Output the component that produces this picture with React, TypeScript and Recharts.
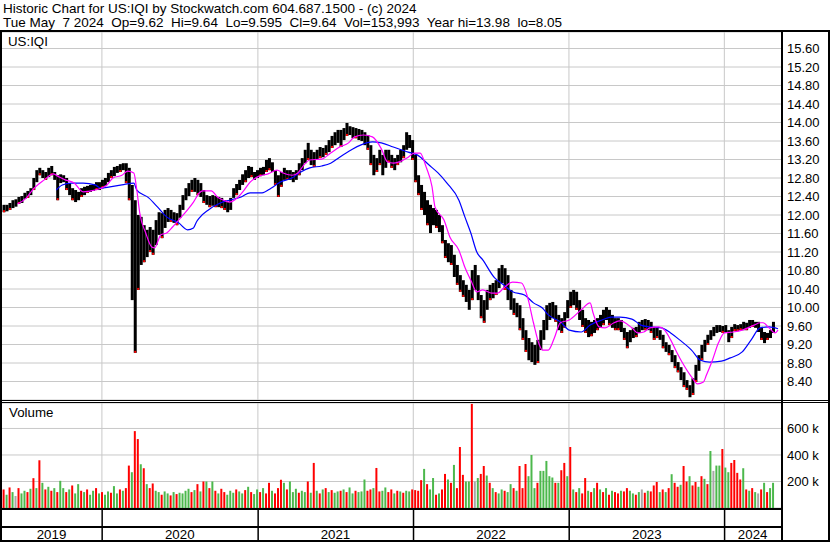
import React from "react";
import { Bar, CartesianGrid, Cell, ComposedChart, Line, XAxis, YAxis } from "recharts";

const font = '"Liberation Sans", Arial, sans-serif';
const gridColor = "#c8c8c8";

// weeks counted from Mon 13 May 2019
const priceTicks = [8.4, 8.8, 9.2, 9.6, 10.0, 10.4, 10.8, 11.2, 11.6, 12.0, 12.4, 12.8, 13.2, 13.6, 14.0, 14.4, 14.8, 15.2, 15.6];
const volumeTicks = [200000, 400000, 600000];
const years = ["2019", "2020", "2021", "2022", "2023", "2024"];
const yearStartWeek = [33.3, 85.6, 137.7, 189.9, 242.0];
const yearMidWeek = [16.4, 59.4, 111.6, 163.8, 216.0, 251.5];

const weekHigh = [
  12.22, 12.22, 12.26, 12.32, 12.34, 12.39, 12.41, 12.48, 12.52, 12.58,
  12.8, 12.97, 13.02, 12.97, 12.93, 13.02, 13.06, 12.93, 12.86, 12.88,
  12.86, 12.8, 12.69, 12.58, 12.54, 12.5, 12.58, 12.61, 12.63, 12.65,
  12.67, 12.71, 12.71, 12.76, 12.8, 12.91, 12.97, 13.04, 13.06, 13.1,
  13.12, 13.12, 13.02, 12.65, 12.32, 12.0, 11.96, 11.78, 11.68, 11.74,
  11.68, 11.89, 12.06, 12.04, 12.11, 12.15, 12.11, 12.06, 12.04, 12.22,
  12.43, 12.58, 12.69, 12.76, 12.8, 12.76, 12.69, 12.54, 12.43, 12.41,
  12.43, 12.41, 12.39, 12.37, 12.32, 12.28, 12.37, 12.58, 12.67, 12.76,
  12.88, 12.97, 13.06, 13.04, 12.93, 12.97, 13.02, 13.04, 13.19, 13.23,
  13.14, 12.97, 12.86, 12.93, 13.02, 12.97, 12.97, 12.93, 12.97, 13.12,
  13.23, 13.41, 13.56, 13.41, 13.36, 13.41, 13.47, 13.45, 13.51, 13.62,
  13.71, 13.79, 13.84, 13.84, 13.88, 13.99, 13.92, 13.9, 13.88, 13.86,
  13.84, 13.79, 13.73, 13.51, 13.3, 13.23, 13.41, 13.3, 13.41, 13.41,
  13.3, 13.23, 13.3, 13.41, 13.51, 13.79, 13.73, 13.62, 13.3, 12.86,
  12.65, 12.5, 12.32, 12.22, 12.15, 12.11, 12.0, 11.78, 11.46, 11.39,
  11.35, 11.14, 10.92, 10.7, 10.59, 10.49, 10.38, 10.81, 10.92, 10.7,
  10.27, 10.16, 10.38, 10.49, 10.53, 10.59, 10.85, 10.92, 10.85, 10.7,
  10.38, 10.2, 10.1, 10.05, 9.77, 9.51, 9.34, 9.25, 9.19, 9.3,
  9.51, 9.73, 10.05, 10.1, 10.12, 10.05, 9.84, 9.77, 9.9, 10.16,
  10.34, 10.38, 10.34, 10.16, 9.95, 9.77, 9.73, 9.69, 9.73, 9.77,
  9.84, 9.95, 10.01, 9.95, 9.84, 9.77, 9.77, 9.73, 9.56, 9.47,
  9.51, 9.56, 9.58, 9.69, 9.73, 9.75, 9.73, 9.69, 9.58, 9.56,
  9.51, 9.41, 9.25, 9.19, 9.08, 8.97, 8.82, 8.71, 8.6, 8.43,
  8.32, 8.47, 8.76, 8.97, 9.19, 9.3, 9.41, 9.51, 9.58, 9.62,
  9.62, 9.6, 9.62, 9.51, 9.58, 9.64, 9.62, 9.64, 9.69, 9.67,
  9.73, 9.73, 9.69, 9.69, 9.56, 9.47, 9.45, 9.51, 9.69,
];

const weekLow = [
  12.06, 12.08, 12.11, 12.15, 12.18, 12.24, 12.26, 12.35, 12.37, 12.43,
  12.54, 12.71, 12.86, 12.8, 12.76, 12.82, 12.86, 12.76, 12.32, 12.69,
  12.71, 12.54, 12.43, 12.32, 12.28, 12.32, 12.39, 12.43, 12.48, 12.5,
  12.52, 12.54, 12.54, 12.58, 12.63, 12.71, 12.8, 12.84, 12.91, 12.93,
  12.97, 12.69, 12.32, 10.16, 9.02, 10.38, 10.92, 10.98, 11.09, 11.2,
  11.14, 11.35, 11.57, 11.5, 11.72, 11.85, 11.85, 11.83, 11.78, 11.94,
  12.11, 12.32, 12.41, 12.5, 12.5, 12.43, 12.39, 12.26, 12.22, 12.17,
  12.2, 12.17, 12.17, 12.15, 12.11, 12.06, 12.11, 12.37, 12.43, 12.54,
  12.65, 12.71, 12.8, 12.82, 12.76, 12.8, 12.84, 12.86, 12.93, 12.97,
  12.93, 12.65, 12.39, 12.61, 12.76, 12.76, 12.76, 12.71, 12.76, 12.86,
  12.97, 13.12, 13.19, 13.08, 13.04, 13.19, 13.23, 13.25, 13.3, 13.36,
  13.45, 13.51, 13.56, 13.47, 13.62, 13.71, 13.73, 13.66, 13.66, 13.62,
  13.6, 13.51, 13.41, 13.08, 12.86, 12.93, 13.08, 12.86, 13.02, 13.14,
  13.02, 12.97, 13.08, 13.14, 13.23, 13.41, 13.45, 13.19, 12.71, 12.43,
  12.11, 12.0, 11.78, 11.61, 11.78, 11.72, 11.63, 11.39, 11.07, 10.98,
  10.92, 10.66, 10.49, 10.34, 10.23, 10.12, 9.95, 10.16, 10.38, 10.16,
  9.77, 9.67, 9.95, 10.16, 10.2, 10.27, 10.42, 10.53, 10.38, 10.16,
  9.95, 9.84, 9.79, 9.51, 9.3, 9.04, 8.86, 8.82, 8.76, 8.8,
  9.08, 9.3, 9.51, 9.73, 9.77, 9.69, 9.51, 9.45, 9.56, 9.77,
  9.99, 10.05, 9.95, 9.73, 9.58, 9.45, 9.36, 9.38, 9.45, 9.51,
  9.56, 9.62, 9.73, 9.62, 9.56, 9.51, 9.51, 9.47, 9.3, 9.12,
  9.25, 9.34, 9.36, 9.45, 9.51, 9.51, 9.51, 9.45, 9.3, 9.34,
  9.3, 9.12, 9.04, 8.97, 8.82, 8.69, 8.6, 8.43, 8.28, 8.22,
  8.06, 8.11, 8.39, 8.63, 8.86, 9.04, 9.19, 9.3, 9.38, 9.45,
  9.47, 9.45, 9.45, 9.25, 9.34, 9.49, 9.49, 9.51, 9.51, 9.51,
  9.56, 9.58, 9.56, 9.47, 9.3, 9.23, 9.3, 9.34, 9.45,
];

// thousands of shares
const weekVolumeK = [
  140, 100, 155, 120, 90, 150, 110, 130, 120, 145,
  225, 150, 360, 190, 140, 160, 130, 150, 120, 205,
  150, 120, 140, 170, 110, 180, 130, 120, 140, 100,
  130, 150, 110, 120, 100, 125, 115, 165, 110, 140,
  130, 150, 320, 270, 580, 520, 330, 300, 180, 150,
  185, 130, 120, 100, 125, 110, 95, 120, 105, 115,
  110, 130, 145, 120, 135, 180, 125, 200, 200, 150,
  200, 130, 110, 145, 120, 100, 130, 115, 140, 125,
  110, 135, 160, 120, 105, 140, 120, 150, 110, 190,
  130, 110, 150, 213, 190, 140, 200, 120, 145, 115,
  130, 120, 200, 115, 340, 130, 110, 140, 150, 120,
  135, 115, 125, 130, 140, 120, 155, 110, 130, 120,
  125, 215, 130, 140, 150, 302, 125, 130, 155, 120,
  140, 110, 130, 125, 115, 130, 125, 140, 135, 130,
  210, 295, 180, 140, 226, 100, 110, 140, 257, 215,
  190, 325, 150, 460, 250, 200, 200, 785, 200, 226,
  257, 317, 245, 190, 150, 120, 110, 140, 130, 120,
  180, 150, 130, 317, 150, 332, 240, 400, 150, 190,
  280, 280, 355, 240, 230, 190, 190, 285, 340, 240,
  460, 140, 120, 150, 110, 226, 130, 120, 150, 190,
  140, 120, 150, 100, 130, 120, 110, 130, 125, 150,
  130, 110, 100, 120, 140, 115, 130, 125, 170, 196,
  120, 140, 120, 150, 255, 190, 160, 175, 317, 200,
  240, 170, 196, 160, 240, 220, 180, 430, 280, 320,
  320, 445, 305, 270, 340, 362, 265, 215, 300, 140,
  130, 150, 120, 110, 140, 190, 120, 150, 190,
];

// r = down, g = up, n = unchanged
const weekTone = (
  "rgrgnrggrg" + "rgrgrgrgrg" + "grgrggrgrg" + "grgrggrggr" + "grrgrrgrgr" +
  "rggrggrgrg" + "gggrgrgrgr" + "grgrrgggrg" + "grgrggrgrr" + "grrrgrgggr" +
  "ggrgrgrgrg" + "rggrgrggrg" + "ggrrgrrggr" + "rgrgrggrrr" + "rgrggrgrrg" +
  "rgrrrggrng" + "rrgrgrggrg" + "grgrrrgggr" + "gggggrgrrg" + "rgrgrrgrgr" +
  "grgrgrrgrr" + "ggrgnrgrrr" + "grgrgrrgrr" + "grrgrgrgng" + "grggrrrrgr" +
  "grgnrgrgg"
).split("");

// moving averages: [week, price]
const maFast = [
  [5, 12.24], [8, 12.37], [10, 12.54], [14, 12.76], [17, 12.89], [19, 12.82], [21, 12.76],
  [24, 12.69], [27, 12.5], [31, 12.54], [33, 12.58], [35, 12.65], [37, 12.8], [40, 12.86],
  [42, 12.95], [44, 12.91], [45, 12.54], [46, 12.04], [48, 11.61], [50, 11.31], [51, 11.29],
  [52, 11.42], [53, 11.57], [55, 11.61], [57, 11.74], [60, 11.96], [62, 12.11], [64, 12.28],
  [66, 12.48], [67, 12.52], [70, 12.52], [72, 12.39], [74, 12.32], [76, 12.28], [79, 12.39],
  [81, 12.54], [83, 12.71], [86, 12.84], [89, 12.89], [92, 12.97], [94, 12.91], [97, 12.86],
  [99, 12.91], [101, 13.08], [103, 13.19], [107, 13.21], [110, 13.34], [113, 13.47], [116, 13.56],
  [118, 13.69], [121, 13.73], [124, 13.69], [127, 13.43], [129, 13.15], [131, 13.12], [133, 13.15],
  [136, 13.25], [138, 13.34], [140, 13.34], [142, 13.04], [144, 12.61], [145, 12.17], [148, 11.89],
  [150, 11.52], [153, 11.24], [155, 10.87], [157, 10.59], [159, 10.34], [161, 10.38], [164, 10.31],
  [166, 10.31], [168, 10.42], [171, 10.55], [174, 10.53], [176, 10.23], [178, 9.67], [180, 9.19],
  [181, 9.08], [183, 9.08], [185, 9.34], [187, 9.67], [190, 9.73], [194, 9.95], [197, 10.1],
  [198, 9.88], [200, 9.58], [202, 9.56], [205, 9.67], [207, 9.71], [211, 9.56], [213, 9.45],
  [215, 9.47], [217, 9.56], [220, 9.58], [222, 9.51], [224, 9.3], [226, 9.04], [228, 8.8],
  [231, 8.5], [233, 8.35], [235, 8.39], [236, 8.54], [238, 8.86], [240, 9.23], [242, 9.45],
  [245, 9.47], [248, 9.51], [252, 9.62], [254, 9.67], [255, 9.67], [257, 9.56], [259, 9.45],
  [260, 9.51],
];

const maSlow = [
  [18, 12.54], [20, 12.65], [23, 12.69], [27, 12.69], [31, 12.65], [33, 12.58], [36, 12.61],
  [40, 12.65], [44, 12.69], [45, 12.54], [49, 12.37], [52, 12.17], [55, 11.96], [59, 11.83],
  [62, 11.68], [64, 11.72], [65, 11.85], [66, 11.94], [69, 12.11], [73, 12.26], [76, 12.32],
  [80, 12.39], [83, 12.48], [87, 12.48], [90, 12.58], [93, 12.71], [97, 12.8], [100, 12.93],
  [103, 13.02], [107, 13.06], [110, 13.12], [113, 13.25], [117, 13.41], [120, 13.51], [124, 13.58],
  [127, 13.56], [131, 13.47], [136, 13.36], [139, 13.3], [143, 13.08], [146, 12.91], [149, 12.69],
  [153, 12.32], [155, 11.96], [157, 11.61], [159, 11.2], [161, 11.03], [165, 10.64], [168, 10.49],
  [171, 10.34], [175, 10.27], [178, 10.1], [181, 9.99], [183, 9.84], [187, 9.69], [190, 9.51],
  [194, 9.47], [197, 9.62], [201, 9.73], [204, 9.79], [207, 9.79], [211, 9.75], [214, 9.62],
  [217, 9.58], [221, 9.56], [224, 9.45], [227, 9.3], [231, 9.08], [234, 8.86], [237, 8.82],
  [241, 8.84], [244, 8.91], [248, 9.04], [251, 9.3], [254, 9.56], [257, 9.58], [260, 9.54],
];

const toneColor: Record<string, string> = { r: "#ff0000", g: "#4cb84c", n: "#a8a8a8" };
const weekDomain = [-0.2, 261];

function PriceBar(props: any) {
  const { x, y, width, height, payload } = props;
  const h = Math.max(height, 1);
  const cx = x + width / 2;
  return (
    <g>
      <rect x={cx - 1.5} y={y} width={3} height={h} fill="#000" />
      {payload.down && <rect x={cx - 1} y={y + h - 2} width={2} height={2} fill="#ff0000" />}
    </g>
  );
}

function YearTick(props: any) {
  const { x, y, payload } = props;
  const v = payload.value;
  if (yearStartWeek.includes(v)) {
    return <rect x={x - 0.5} y={y + 2} width={1.5} height={32} fill="#000" />;
  }
  const i = yearMidWeek.indexOf(v);
  return (
    <text x={x} y={y + 31} textAnchor="middle" fontSize={13.3} fontFamily={font} fill="#000">
      {years[i]}
    </text>
  );
}

// pixel positions of the year boundaries for the grid
const yearLines = ({ offset }: any) =>
  yearStartWeek.map(
    (v) => offset.left + ((v - weekDomain[0]) / (weekDomain[1] - weekDomain[0])) * offset.width
  );

const rules = [
  { left: 0, top: 30, width: 830, height: 2 },
  { left: 0, top: 30, width: 2, height: 512 },
  { left: 781, top: 30, width: 2, height: 512 },
  { left: 828, top: 30, width: 2, height: 512 },
  { left: 0, top: 400, width: 830, height: 1 },
  { left: 0, top: 402, width: 830, height: 1 },
  { left: 0, top: 508, width: 782, height: 2 },
  { left: 0, top: 526, width: 782, height: 2 },
  { left: 0, top: 540, width: 830, height: 2 },
];

const headerStyle: React.CSSProperties = {
  position: "absolute",
  left: 3,
  fontSize: 13.5,
  lineHeight: "14px",
  whiteSpace: "pre",
};

export default function App() {
  const priceData = weekHigh.map((h, i) => ({
    w: i + 0.5,
    range: [weekLow[i], h],
    down: weekTone[i] === "r",
  }));
  const volumeData = weekVolumeK.map((v, i) => ({ w: i + 0.5, vol: v * 1000, tone: weekTone[i] }));
  const fast = maFast.map(([w, p]) => ({ w, p }));
  const slow = maSlow.map(([w, p]) => ({ w, p }));

  return (
    <div
      style={{
        position: "absolute",
        left: 0,
        top: 0,
        width: 830,
        height: 543,
        background: "#fff",
        fontFamily: font,
        color: "#000",
        overflow: "hidden",
      }}
    >
      <div style={{ ...headerStyle, top: 2 }}>
        Historic Chart for US:IQI by Stockwatch.com 604.687.1500 - (c) 2024
      </div>
      <div style={{ ...headerStyle, top: 16 }}>
        {"Tue May  7 2024  Op=9.62  Hi=9.64  Lo=9.595  Cl=9.64  Vol=153,993  Year hi=13.98  lo=8.05"}
      </div>

      <div style={{ position: "absolute", left: 0, top: 32 }}>
        <ComposedChart width={829} height={368} data={priceData} margin={{ top: 0, right: 0, bottom: 0, left: 2 }}>
          <CartesianGrid stroke={gridColor} verticalCoordinatesGenerator={yearLines} />
          <XAxis dataKey="w" type="number" domain={weekDomain} allowDataOverflow hide />
          <YAxis
            orientation="right"
            width={48}
            domain={[8.0, 15.957]}
            allowDataOverflow
            ticks={priceTicks}
            interval={0}
            axisLine={false}
            tickLine={false}
            tickSize={0}
            tickMargin={6}
            tickFormatter={(v: number) => v.toFixed(2)}
            tick={{ fill: "#000", fontSize: 13, fontFamily: font, textAnchor: "start" }}
          />
          <Bar dataKey="range" barSize={3} shape={PriceBar} isAnimationActive={false} />
          <Line data={slow} dataKey="p" type="monotone" stroke="#0000ff" strokeWidth={1.2} dot={false} isAnimationActive={false} />
          <Line data={fast} dataKey="p" type="monotone" stroke="#ff00ff" strokeWidth={1.2} dot={false} isAnimationActive={false} />
        </ComposedChart>
      </div>

      <div style={{ position: "absolute", left: 0, top: 403 }}>
        <ComposedChart width={829} height={139} data={volumeData} margin={{ top: 0, right: 0, bottom: 0, left: 2 }}>
          <CartesianGrid stroke={gridColor} verticalCoordinatesGenerator={yearLines} />
          <XAxis
            dataKey="w"
            type="number"
            domain={weekDomain}
            allowDataOverflow
            height={34}
            ticks={[...yearStartWeek, ...yearMidWeek]}
            interval={0}
            axisLine={false}
            tickLine={false}
            tickSize={0}
            tickMargin={0}
            tick={YearTick}
          />
          <YAxis
            orientation="right"
            width={48}
            domain={[0, 792000]}
            allowDataOverflow
            ticks={volumeTicks}
            interval={0}
            axisLine={false}
            tickLine={false}
            tickSize={0}
            tickMargin={6}
            tickFormatter={(v: number) => `${v / 1000} k`}
            tick={{ fill: "#000", fontSize: 13, fontFamily: font, textAnchor: "start" }}
          />
          <Bar dataKey="vol" barSize={2} isAnimationActive={false}>
            {volumeData.map((d, i) => (
              <Cell key={i} fill={toneColor[d.tone]} />
            ))}
          </Bar>
        </ComposedChart>
      </div>

      <div style={{ position: "absolute", left: 8, top: 35, fontSize: 13.3, lineHeight: "14px" }}>US:IQI</div>
      <div style={{ position: "absolute", left: 9, top: 406, fontSize: 13.3, lineHeight: "14px" }}>Volume</div>

      {rules.map((r, i) => (
        <div key={i} style={{ position: "absolute", background: "#000", ...r }} />
      ))}
    </div>
  );
}
